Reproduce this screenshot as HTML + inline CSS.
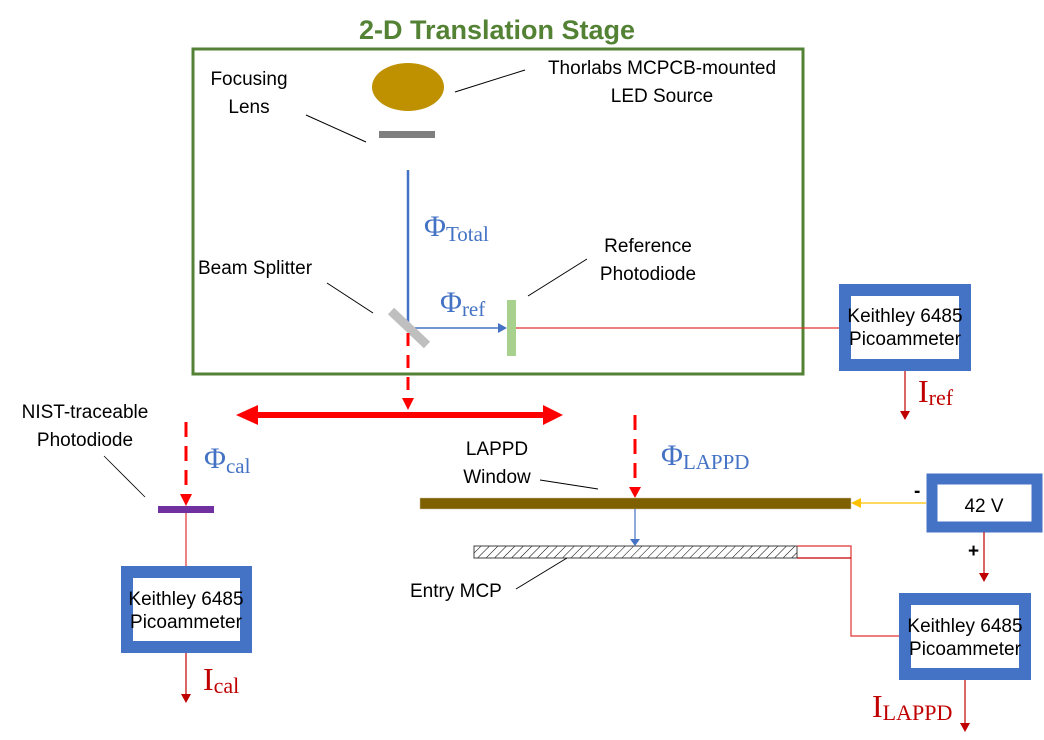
<!DOCTYPE html>
<html><head><meta charset="utf-8"><style>
html,body{margin:0;padding:0;background:#fff;}
svg{display:block;}
.c{font-family:"Liberation Sans",sans-serif;font-size:19px;fill:#000;}
.s{font-family:"Liberation Serif",serif;}
</style></head><body>
<svg width="1044" height="740" viewBox="0 0 1044 740" xmlns="http://www.w3.org/2000/svg">
<defs>
<pattern id="hatch" width="6" height="6" patternUnits="userSpaceOnUse" patternTransform="rotate(45)"><line x1="0" y1="0" x2="0" y2="6" stroke="#000" stroke-width="1"/></pattern>
</defs>
<text x="497" y="39" text-anchor="middle" font-family="Liberation Sans,sans-serif" font-weight="bold" font-size="27" fill="#548235">2-D Translation Stage</text>
<rect x="193" y="49" width="610" height="325" fill="none" stroke="#548235" stroke-width="3"/>
<ellipse cx="408" cy="87" rx="36" ry="24" fill="#bf9000"/>
<rect x="379" y="131" width="56" height="7" fill="#7f7f7f"/>
<text class="c" x="249" y="85" text-anchor="middle">Focusing</text>
<text class="c" x="249" y="113" text-anchor="middle">Lens</text>
<line x1="306" y1="115" x2="366" y2="142" stroke="#000"/>
<text class="c" x="662" y="74" text-anchor="middle">Thorlabs MCPCB-mounted</text>
<text class="c" x="662" y="102" text-anchor="middle">LED Source</text>
<line x1="455" y1="92" x2="525" y2="70" stroke="#000"/>
<line x1="408" y1="170" x2="408" y2="328" stroke="#4472c4" stroke-width="2.5"/>
<text class="s" x="424" y="236" font-size="30" fill="#4472c4">Φ<tspan font-size="21" dy="5">Total</tspan></text>
<text class="c" x="198" y="274">Beam Splitter</text>
<line x1="327" y1="283" x2="373" y2="313" stroke="#000"/>
<text class="c" x="648" y="252" text-anchor="middle">Reference</text>
<text class="c" x="648" y="280" text-anchor="middle">Photodiode</text>
<line x1="528" y1="296" x2="587" y2="259" stroke="#000"/>
<line x1="408" y1="328" x2="500" y2="328" stroke="#4472c4" stroke-width="1.5"/>
<path d="M498,323 L507,328 L498,333 z" fill="#4472c4"/>
<text class="s" x="440" y="312" font-size="30" fill="#4472c4">Φ<tspan font-size="21" dy="4">ref</tspan></text>
<line x1="391" y1="311" x2="427" y2="345" stroke="#bfbfbf" stroke-width="9"/>
<rect x="507" y="300" width="9" height="56" fill="#a9d18e"/>
<line x1="516" y1="328" x2="839" y2="328" stroke="#e03030" stroke-width="1.2"/>
<line x1="408" y1="333" x2="408" y2="400" stroke="#ff0000" stroke-width="3" stroke-dasharray="13,9"/>
<path d="M402,398 L414,398 L408,410 z" fill="#ff0000"/>
<line x1="255" y1="415" x2="545" y2="415" stroke="#ff0000" stroke-width="6"/>
<path d="M236,415 L258,405 L258,425 z" fill="#ff0000"/>
<path d="M563,415 L543,405 L543,425 z" fill="#ff0000"/>
<rect x="845" y="290" width="120" height="75" fill="#fff" stroke="#4472c4" stroke-width="12"/>
<text class="c" x="905" y="322" text-anchor="middle" font-size="14">Keithley 6485</text>
<text class="c" x="905" y="345" text-anchor="middle" font-size="14">Picoammeter</text>
<line x1="905" y1="371" x2="905" y2="412" stroke="#c00000" stroke-width="1.2"/>
<path d="M900,411 L910,411 L905,420 z" fill="#c00000"/>
<text class="s" x="918" y="402" font-size="32" fill="#c00000">I<tspan font-size="22" dy="3">ref</tspan></text>
<text class="c" x="85" y="418" text-anchor="middle">NIST-traceable</text>
<text class="c" x="85" y="446" text-anchor="middle">Photodiode</text>
<line x1="104" y1="456" x2="145" y2="497" stroke="#000" stroke-width="0.8"/>
<line x1="186" y1="422" x2="186" y2="494" stroke="#ff0000" stroke-width="3" stroke-dasharray="15,9"/>
<path d="M180,494 L192,494 L186,506 z" fill="#ff0000"/>
<text class="s" x="204" y="468" font-size="30" fill="#4472c4">Φ<tspan font-size="21" dy="5">cal</tspan></text>
<rect x="158" y="506" width="56" height="7" fill="#7030a0"/>
<line x1="186" y1="513" x2="186" y2="567" stroke="#e03030" stroke-width="1.2"/>
<rect x="127" y="572" width="119" height="75" fill="#fff" stroke="#4472c4" stroke-width="12"/>
<text class="c" x="186" y="605" text-anchor="middle" font-size="14">Keithley 6485</text>
<text class="c" x="186" y="628" text-anchor="middle" font-size="14">Picoammeter</text>
<line x1="186" y1="653" x2="186" y2="695" stroke="#c00000" stroke-width="1.2"/>
<path d="M181,694 L191,694 L186,703 z" fill="#c00000"/>
<text class="s" x="203" y="690" font-size="32" fill="#c00000">I<tspan font-size="22" dy="3">cal</tspan></text>
<text class="c" x="497" y="455" text-anchor="middle">LAPPD</text>
<text class="c" x="497" y="483" text-anchor="middle">Window</text>
<line x1="540" y1="480" x2="598" y2="489" stroke="#000"/>
<line x1="635" y1="415" x2="635" y2="488" stroke="#ff0000" stroke-width="3" stroke-dasharray="15,9"/>
<path d="M629,487 L641,487 L635,498 z" fill="#ff0000"/>
<text class="s" x="661" y="465" font-size="30" fill="#4472c4">Φ<tspan font-size="21" dy="4">LAPPD</tspan></text>
<rect x="420" y="498" width="431" height="11" fill="#7f6000" stroke="#c8c0a0" stroke-width="0.5"/>
<line x1="635" y1="509" x2="635" y2="540" stroke="#4472c4" stroke-width="1.2"/>
<path d="M630,539 L640,539 L635,546 z" fill="#4472c4"/>
<rect x="474" y="546" width="323" height="12" fill="url(#hatch)" stroke="#404040" stroke-width="1"/>
<text class="c" x="410" y="597">Entry MCP</text>
<line x1="516" y1="589" x2="567" y2="558" stroke="#000"/>
<path d="M797,546 L851,546 L851,636 L900,636" fill="none" stroke="#e03030" stroke-width="1.2"/>
<line x1="797" y1="558" x2="851" y2="558" stroke="#c00000" stroke-width="1.2"/>
<rect x="932" y="479" width="105" height="48" fill="#fff" stroke="#4472c4" stroke-width="11"/>
<text class="c" x="984" y="512" text-anchor="middle" font-size="21">42 V</text>
<line x1="860" y1="503" x2="926" y2="503" stroke="#ffc000" stroke-width="1.2"/>
<path d="M851,503 L861,498 L861,508 z" fill="#ffc000"/>
<text class="c" x="914" y="497" font-size="20" font-weight="bold">-</text>
<text class="c" x="968" y="557" font-size="20" font-weight="bold">+</text>
<line x1="984" y1="532" x2="984" y2="574" stroke="#c00000" stroke-width="1.2"/>
<path d="M979,573 L989,573 L984,582 z" fill="#c00000"/>
<rect x="905" y="599" width="120" height="75" fill="#fff" stroke="#4472c4" stroke-width="12"/>
<text class="c" x="965" y="632" text-anchor="middle" font-size="14">Keithley 6485</text>
<text class="c" x="965" y="655" text-anchor="middle" font-size="14">Picoammeter</text>
<line x1="965" y1="680" x2="965" y2="724" stroke="#c00000" stroke-width="1.2"/>
<path d="M960,723 L970,723 L965,732 z" fill="#c00000"/>
<text class="s" x="872" y="717" font-size="32" fill="#c00000">I<tspan font-size="22" dy="3">LAPPD</tspan></text>
</svg>
</body></html>
